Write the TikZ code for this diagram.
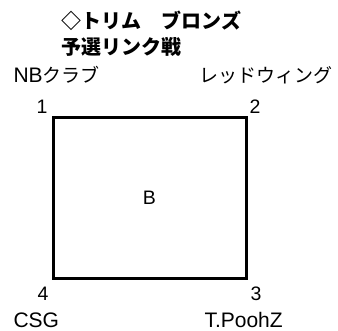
\documentclass[tikz,border=0pt]{standalone}
\usepackage{fontspec}
\setmainfont{Liberation Sans}
\newfontfamily\jpfont{Noto Sans CJK JP}
\usepackage{tikz}

\tikzset{
  team/.style={inner sep=0pt, font=\fontsize{21}{24}\selectfont},
  seed/.style={inner sep=0pt, font=\fontsize{19.5}{22}\selectfont},
  heading/.style={inner sep=0pt, anchor=west, font=\jpfont\bfseries\fontsize{20}{24}\selectfont}
}
\newcommand{\jp}[1]{{\jpfont\fontsize{19}{22}\selectfont #1}}

\begin{document}
\begin{tikzpicture}[x=1pt, y=1pt, line width=3pt, line join=miter]

\useasboundingbox (0,0) rectangle (338,331);

%% title -- two lines, top left
\node[heading] (title1) at (60,310) {◇トリム　ブロンズ};
\node[heading] (title2) at (60,284) {予選リンク戦};

%% the group square
\node[draw, minimum width=193, minimum height=161.5, inner sep=0pt,
      font=\fontsize{19.5}{22}\selectfont] (grpB) at (149.5,132.75) {B};

%% top row of teams
\node[team, anchor=west] (teamNB) at (12,256) {NB\jp{クラブ}};
\node[team, anchor=east] (teamRW) at (334,256) {\jp{レッドウィング}};
\node[seed] (seed1) at (42,224) {1};
\node[seed] (seed2) at (255,224) {2};

%% bottom row of teams
\node[seed] (seed4) at (43,37) {4};
\node[seed] (seed3) at (256,37) {3};
\node[team, anchor=west] (teamCSG) at (12,11) {CSG};
\node[team, anchor=west] (teamTP) at (203,11) {T.PoohZ};

\end{tikzpicture}
\end{document}
